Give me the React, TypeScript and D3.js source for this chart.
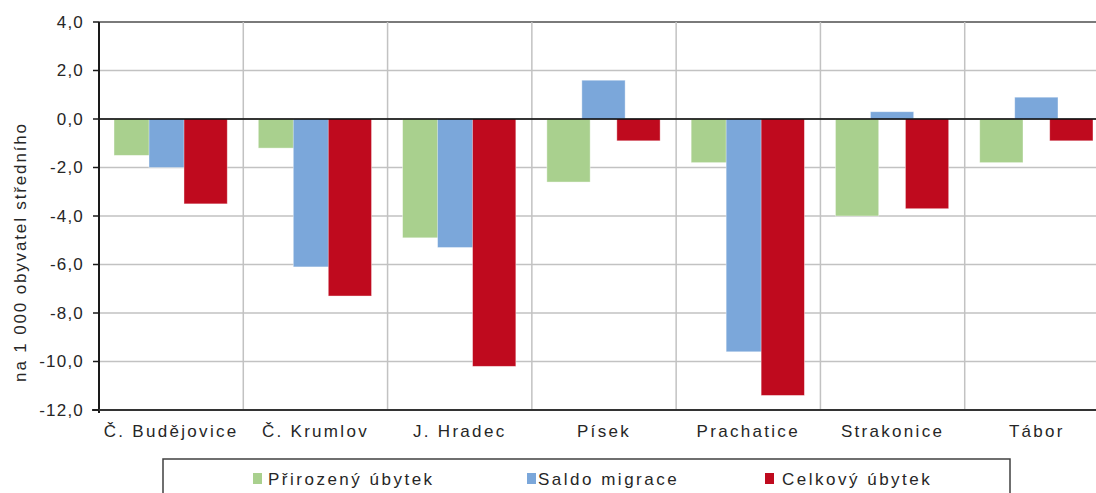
import React from "react";
import { scaleBand, scaleLinear } from "d3";

const width = 1096;
const height = 493;

// data
const categories = [
  "Č. Budějovice",
  "Č. Krumlov",
  "J. Hradec",
  "Písek",
  "Prachatice",
  "Strakonice",
  "Tábor",
];
const prirozenyUbytek = [-1.5, -1.2, -4.9, -2.6, -1.8, -4.0, -1.8];
const saldoMigrace = [-2.0, -6.1, -5.3, 1.6, -9.6, 0.3, 0.9];
const celkovyUbytek = [-3.5, -7.3, -10.2, -0.9, -11.4, -3.7, -0.9];
const seriesNames = ["Přirozený úbytek", "Saldo migrace", "Celkový úbytek"];
const seriesColors = ["#a9d08e", "#7ba7da", "#bf0a1e"];
const yTicks = [4, 2, 0, -2, -4, -6, -8, -10, -12];
const yTitle = "na 1 000 obyvatel středního";

const series = [prirozenyUbytek, saldoMigrace, celkovyUbytek];

const plot = { left: 99, right: 1109, top: 22, bottom: 410 };
const font = "'Liberation Sans', Arial, sans-serif";
const textColor = "#262626";

const fmt = (v: number) => v.toFixed(1).replace(".", ",");

// legend layout (square x, text x)
const legendItems = [
  { sq: 253, tx: 268 },
  { sq: 527, tx: 538 },
  { sq: 765, tx: 782 },
];

export default function App() {
  const xScale = scaleBand<string>()
    .domain(categories)
    .range([plot.left, plot.right])
    .padding(0);
  const bw = xScale.bandwidth();

  const yScale = scaleLinear().domain([-12, 4]).range([plot.bottom, plot.top]);

  // bars overlap a bit, like the original (drawn in order green, blue, red)
  const gap = bw * 0.104;
  const step = bw * 0.2425;
  const barW = bw * 0.3;

  return (
    <svg
      width={width}
      height={height}
      style={{ position: "absolute", left: 0, top: 0, background: "#fff" }}
      fontFamily={font}
    >
      {/* horizontal grid */}
      {yTicks.map((t) => (
        <line
          key={"h" + t}
          x1={plot.left}
          x2={width}
          y1={yScale(t)}
          y2={yScale(t)}
          stroke={t === 4 ? "#7a7a7a" : "#c2c2c2"}
          strokeWidth={t === 4 ? 2 : 1.5}
        />
      ))}
      {/* vertical grid at category boundaries */}
      {categories.slice(1).map((c) => (
        <line
          key={"v" + c}
          x1={xScale(c)}
          x2={xScale(c)}
          y1={plot.top}
          y2={plot.bottom}
          stroke="#c2c2c2"
          strokeWidth={1.5}
        />
      ))}

      {/* bars */}
      {series.map((vals, si) => (
        <g key={"s" + si}>
          {vals.map((v, i) => {
            const x0 = (xScale(categories[i]) as number) + gap + si * step;
            const y0 = yScale(Math.max(0, v));
            const y1 = yScale(Math.min(0, v));
            return (
              <rect
                key={i}
                x={x0}
                y={y0}
                width={barW}
                height={y1 - y0}
                fill={seriesColors[si]}
                stroke="#ffffff"
                strokeOpacity={0.5}
                strokeWidth={0.8}
              />
            );
          })}
        </g>
      ))}

      {/* zero line */}
      <line
        x1={plot.left}
        x2={width}
        y1={yScale(0)}
        y2={yScale(0)}
        stroke="#000"
        strokeWidth={1.5}
      />

      {/* axes */}
      <line
        x1={plot.left}
        x2={plot.left}
        y1={plot.top}
        y2={plot.bottom + 3}
        stroke="#1a1a1a"
        strokeWidth={2}
      />
      <line
        x1={plot.left - 7}
        x2={width}
        y1={plot.bottom}
        y2={plot.bottom}
        stroke="#333"
        strokeWidth={2}
      />
      {yTicks.map((t) => (
        <g key={"t" + t}>
          <line
            x1={plot.left - 6}
            x2={plot.left}
            y1={yScale(t)}
            y2={yScale(t)}
            stroke="#1a1a1a"
            strokeWidth={1.5}
          />
          <text
            x={84}
            y={yScale(t)}
            dy="0.35em"
            textAnchor="end"
            fontSize={17}
            letterSpacing={1.2}
            fill={textColor}
          >
            {fmt(t)}
          </text>
        </g>
      ))}

      {/* category labels */}
      {categories.map((c) => (
        <text
          key={"c" + c}
          x={(xScale(c) as number) + bw / 2}
          y={437}
          textAnchor="middle"
          fontSize={17}
          letterSpacing={2.3}
          fill={textColor}
        >
          {c}
        </text>
      ))}

      {/* y title */}
      <text
        transform={`translate(26,${(plot.top + plot.bottom) / 2 + 36}) rotate(-90)`}
        textAnchor="middle"
        fontSize={17}
        letterSpacing={1.85}
        fill={textColor}
      >
        {yTitle}
      </text>

      {/* legend */}
      <rect
        x={163}
        y={459}
        width={847}
        height={60}
        fill="#fff"
        stroke="#404040"
        strokeWidth={1.5}
      />
      {seriesNames.map((n, i) => (
        <g key={"l" + n}>
          <rect
            x={legendItems[i].sq}
            y={473}
            width={9}
            height={11}
            fill={seriesColors[i]}
          />
          <text
            x={legendItems[i].tx}
            y={485}
            fontSize={17}
            letterSpacing={2.5}
            fill={textColor}
          >
            {n}
          </text>
        </g>
      ))}
    </svg>
  );
}
